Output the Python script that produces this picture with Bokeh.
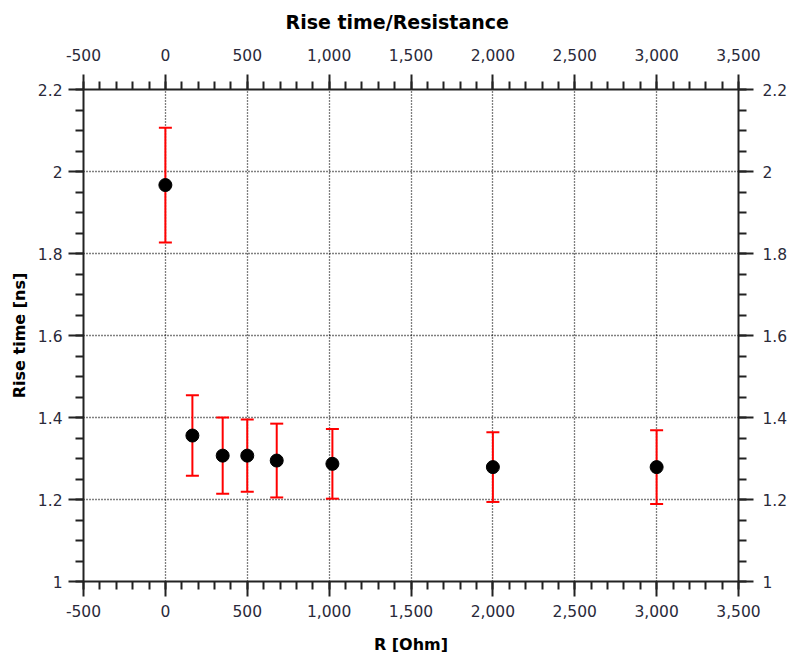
from bokeh.plotting import figure
from bokeh.models import (LinearAxis, Range1d, SingleIntervalTicker, NumeralTickFormatter,
                          Whisker, TeeHead, ColumnDataSource)
from bokeh.embed import file_html
from bokeh.resources import INLINE

# Data
resistance = [0, 165, 350, 500, 680, 1020, 2000, 3000]          # R [Ohm]
rise_time = [1.967, 1.356, 1.307, 1.307, 1.295, 1.287, 1.279, 1.279]  # ns
rise_err = [0.140, 0.098, 0.093, 0.088, 0.090, 0.085, 0.085, 0.090]  # ns

title_text = "Rise time/Resistance"
x_label = "R [Ohm]"
y_label = "Rise time [ns]"

src = ColumnDataSource(dict(
    x=resistance,
    y=rise_time,
    upper=[v + e for v, e in zip(rise_time, rise_err)],
    lower=[v - e for v, e in zip(rise_time, rise_err)],
))

FONT = "DejaVu Sans"
TICK_COLOR = "#2a2a3a"
LINE_COLOR = "#222222"

p = figure(width=790, height=657,
           x_range=Range1d(-500, 3500), y_range=Range1d(1, 2.2),
           output_backend="svg", toolbar_location=None,
           min_border_left=83, min_border_right=52,
           min_border_top=89, min_border_bottom=76,
           title=title_text)
p.outline_line_color = None
p.background_fill_color = "white"
p.border_fill_color = "white"

p.title.align = "left"
p.title.offset = 202
p.title.standoff = 21
p.title.vertical_align = "top"
p.title.text_font = FONT
p.title.text_font_size = "19px"
p.title.text_font_style = "bold"
p.title.text_color = "black"

xt = SingleIntervalTicker(interval=500, num_minor_ticks=5)
yt = SingleIntervalTicker(interval=0.2, num_minor_ticks=4)
xf = NumeralTickFormatter(format="0,0")
yf = NumeralTickFormatter(format="0.[0]")

p.add_layout(LinearAxis(), "right")
p.add_layout(LinearAxis(), "above")

for ax in p.xaxis:
    ax.ticker = xt
    ax.formatter = xf
for ax in p.yaxis:
    ax.ticker = yt
    ax.formatter = yf

for ax in p.xaxis + p.yaxis:
    ax.axis_line_color = LINE_COLOR
    ax.axis_line_width = 2
    ax.major_tick_line_color = LINE_COLOR
    ax.major_tick_line_width = 2
    ax.minor_tick_line_color = LINE_COLOR
    ax.minor_tick_line_width = 2
    ax.major_tick_in = 0
    ax.major_tick_out = 15
    ax.minor_tick_in = 0
    ax.minor_tick_out = 8
    ax.major_label_text_font = FONT
    ax.major_label_text_font_size = "15.5px"
    ax.major_label_text_color = TICK_COLOR
    ax.axis_label_text_font = FONT
    ax.axis_label_text_font_size = "16px"
    ax.axis_label_text_font_style = "bold"
    ax.axis_label_text_color = "black"

p.below[0].axis_label = x_label
p.below[0].major_label_standoff = 8
p.below[0].axis_label_standoff = 15
p.left[0].axis_label = y_label
p.left[0].major_label_standoff = 6
p.left[0].axis_label_standoff = 6
p.right[0].major_label_standoff = 9
p.above[0].major_label_standoff = 14

p.xgrid.ticker = xt
p.ygrid.ticker = yt
for g in (p.xgrid, p.ygrid):
    g.grid_line_color = "black"
    g.grid_line_dash = "1 2"
    g.grid_line_width = 1.3
    g.grid_line_alpha = 1.0

p.scatter("x", "y", source=src, size=13, color="black")

whisk = Whisker(source=src, base="x", upper="upper", lower="lower",
                line_color="red", line_width=2,
                upper_head=TeeHead(size=13, line_color="red", line_width=2),
                lower_head=TeeHead(size=13, line_color="red", line_width=2))
p.add_layout(whisk)

open("out.html", "w").write(file_html(p, INLINE))
